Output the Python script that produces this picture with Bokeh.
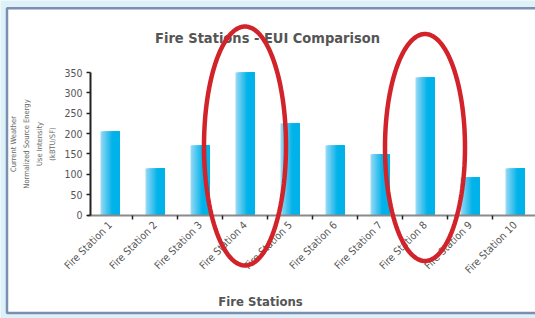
import numpy as np
from bokeh.plotting import figure
from bokeh.models import (Range1d, FixedTicker, PolyAnnotation, Label, BoxAnnotation,
                          ColumnDataSource)
from bokeh.transform import dodge
from bokeh.embed import file_html
from bokeh.resources import INLINE

# ---- data ----
stations = ["Fire Station 1", "Fire Station 2", "Fire Station 3", "Fire Station 4",
            "Fire Station 5", "Fire Station 6", "Fire Station 7", "Fire Station 8",
            "Fire Station 9", "Fire Station 10"]
eui = [205, 114, 171, 350, 225, 171, 149, 338, 92, 114]
y_ticks = [0, 50, 100, 150, 200, 250, 300, 350]
highlighted = ["Fire Station 4", "Fire Station 8"]
title_text = "Fire Stations - EUI Comparison"
x_title = "Fire Stations"
y_title = "Current Weather\nNormalized Source Energy\nUse Intensity\n(kBTU/SF)"

# ---- styles / layout ----
FONT = "DejaVu Sans Condensed, DejaVu Sans"
W, H = 535, 318
BAR_W = 0.42
N_STRIPS = 14
LEFT_COL = np.array([0x92, 0xd8, 0xf4])
RIGHT_COL = np.array([0x00, 0xb2, 0xea])
RED = "#d2232a"
PAGE_BG = "#def0f8"
PANEL_EDGE = "#7b8fb0"

pos = np.arange(1, len(stations) + 1)
src = ColumnDataSource(dict(x=pos, top=eui))

# the frame covers the whole canvas; axes are pinned with fixed_location
PX_X = 45.0              # px per category
X0_PX = 109.5            # px of first category centre
PX_Y = 142.5 / 350.0     # px per unit
Y0_PX = 214.5            # px of zero line
x_start = 1 - X0_PX / PX_X
x_end = x_start + W / PX_X
y_end = Y0_PX / PX_Y
y_start = -(H - Y0_PX) / PX_Y


def xd(px):
    return x_start + px / PX_X


def yd(py):
    return (Y0_PX - py) / PX_Y


p = figure(width=W, height=H, output_backend="svg", toolbar_location=None, title=None,
           x_range=Range1d(x_start, x_end), y_range=Range1d(y_start, y_end),
           min_border=0)
p.xgrid.visible = False
p.ygrid.visible = False
p.outline_line_color = None
p.background_fill_color = PAGE_BG
p.border_fill_color = PAGE_BG

# white chart panel with blue-grey frame
p.add_layout(BoxAnnotation(left=xd(6.5), right=xd(W + 10), top=yd(7.8), bottom=yd(312.5),
                           fill_color="white", fill_alpha=1.0, line_color=PANEL_EDGE,
                           line_alpha=1.0, line_width=2.5, level="underlay"))

# gradient bars from nested strips
step = BAR_W / N_STRIPS
for k in range(N_STRIPS):
    wk = BAR_W - k * step
    off = -BAR_W / 2 + k * step + wk / 2
    t = min(1.0, k / (N_STRIPS * 0.6))
    c = (LEFT_COL + (RIGHT_COL - LEFT_COL) * t).astype(int)
    col = "#%02x%02x%02x" % tuple(c)
    p.vbar(x=dodge("x", off), top="top", bottom=0, width=wk, source=src,
           fill_color=col, line_color=None)

# axes
xa = p.xaxis[0]
bounds = list(pos - 0.5) + [pos[-1] + 0.5]
xa.fixed_location = 0
xa.bounds = (pos[0] - 0.5, pos[-1] + 0.5)
xa.ticker = FixedTicker(ticks=list(pos), minor_ticks=bounds[1:])
xa.major_label_overrides = {int(i): s for i, s in zip(pos, stations)}
xa.major_label_orientation = np.pi / 4
xa.major_tick_out = 0
xa.major_tick_in = 0
xa.minor_tick_out = 4
xa.minor_tick_in = 0
xa.minor_tick_line_color = "#222222"
xa.minor_tick_line_width = 1.5
xa.axis_line_color = "#8a8a8a"
xa.axis_line_width = 2
xa.major_label_text_font = FONT
xa.major_label_text_font_size = "10.5px"
xa.major_label_text_color = "#555555"
xa.major_label_standoff = 4

ya = p.yaxis[0]
ya.fixed_location = xd(90)
ya.bounds = (y_ticks[0], y_ticks[-1])
ya.ticker = FixedTicker(ticks=y_ticks, minor_ticks=[])
ya.major_tick_out = 4
ya.major_tick_in = 0
ya.major_tick_line_color = "#222222"
ya.major_tick_line_width = 1.5
ya.axis_line_color = "#222222"
ya.axis_line_width = 2
ya.major_label_text_font = FONT
ya.major_label_text_font_size = "10.5px"
ya.major_label_text_color = "#555555"
ya.major_label_standoff = 4
ya.axis_label = y_title
ya.axis_label_text_font = FONT
ya.axis_label_text_font_size = "7.5px"
ya.axis_label_text_font_style = "normal"
ya.axis_label_text_color = "#666666"
ya.axis_label_text_line_height = 1.45
ya.axis_label_standoff = 4

# chart title and x title
p.add_layout(Label(x=xd(267), y=yd(37), text=title_text, text_align="center",
                   text_baseline="alphabetic", text_font=FONT, text_font_size="14.5px",
                   text_font_style="bold", text_color="#555555"))
p.add_layout(Label(x=xd(260), y=yd(301), text=x_title, text_align="center",
                   text_baseline="alphabetic", text_font=FONT, text_font_size="13px",
                   text_font_style="bold", text_color="#555555"))

# highlight ovals around selected stations (centre y, half-width px, half-height px)
theta = np.linspace(0, 2 * np.pi, 120)
for name, (cy_px, a_px, b_px) in zip(highlighted, [(145.5, 41, 119.5), (147.0, 40, 113.5)]):
    cx = pos[stations.index(name)]
    xs = cx + (a_px / PX_X) * np.cos(theta)
    ys = yd(cy_px) + (b_px / PX_Y) * np.sin(theta)
    p.add_layout(PolyAnnotation(xs=list(xs), ys=list(ys), fill_alpha=0, line_color=RED,
                                line_alpha=1.0, line_width=4.5))

open("out.html", "w").write(file_html(p, INLINE))
